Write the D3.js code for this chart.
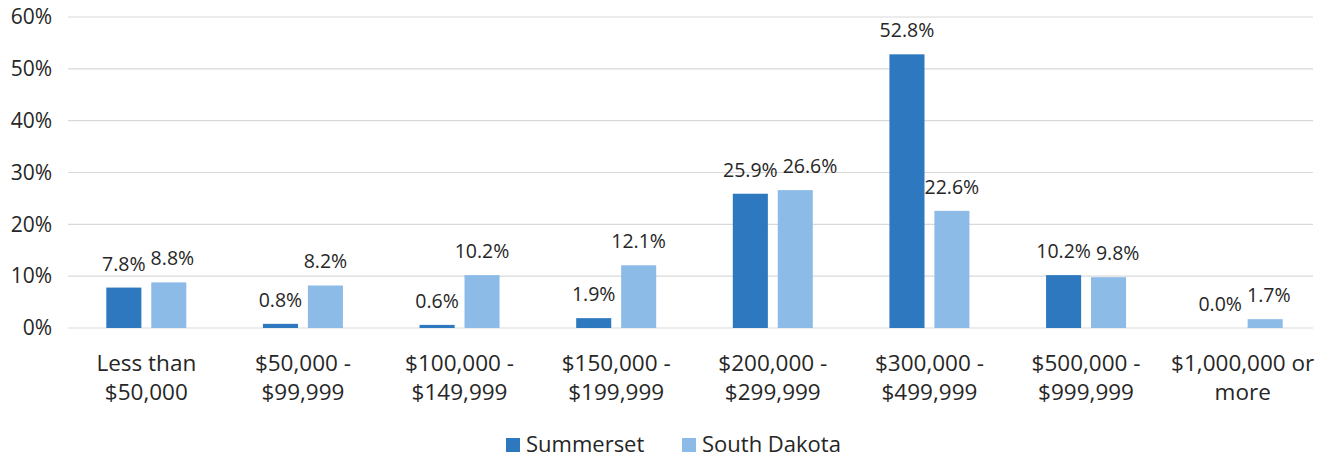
<!DOCTYPE html>
<html>
<head>
<meta charset="utf-8">
<title>Home values</title>
<script src="https://cdn.jsdelivr.net/npm/d3@7"></script>
<style>
  body { margin: 0; background: #fff; }
  text { font-family: "Open Sans", sans-serif; fill: #262626; }
</style>
</head>
<body>
<div id="chart"></div>
<script>
var categories = [
  ['Less than', '$50,000'],
  ['$50,000 -', '$99,999'],
  ['$100,000 -', '$149,999'],
  ['$150,000 -', '$199,999'],
  ['$200,000 -', '$299,999'],
  ['$300,000 -', '$499,999'],
  ['$500,000 -', '$999,999'],
  ['$1,000,000 or', 'more']
];
var seriesNames = ['Summerset', 'South Dakota'];
var summerset = [7.8, 0.8, 0.6, 1.9, 25.9, 52.8, 10.2, 0.0];
var southDakota = [8.8, 8.2, 10.2, 12.1, 26.6, 22.6, 9.8, 1.7];
var yTicks = [0, 10, 20, 30, 40, 50, 60];
var colors = ['#2e78bf', '#8dbbe8'];

var width = 1327, height = 458;
var svg = d3.select('#chart').append('svg')
  .attr('width', width).attr('height', height);

var x = d3.scaleBand()
  .domain(d3.range(categories.length))
  .range([68, 1321]);
var xs = d3.scaleBand()
  .domain(seriesNames)
  .range([x.bandwidth() / 2 - 40, x.bandwidth() / 2 + 40])
  .paddingInner(0.22);
var y = d3.scaleLinear().domain([0, 60]).range([328, 17]);

// gridlines
svg.append('g').selectAll('line')
  .data(yTicks).enter().append('line')
  .attr('x1', 68).attr('x2', 1313)
  .attr('y1', function(d) { return y(d); })
  .attr('y2', function(d) { return y(d); })
  .attr('stroke', '#d9d9d9').attr('stroke-width', 1.2);

var yAxis = svg.append('g')
  .attr('transform', 'translate(58,0)')
  .call(d3.axisLeft(y).tickValues(yTicks).tickSize(0).tickPadding(6)
    .tickFormat(function(d) { return d + '%'; }));
yAxis.select('.domain').remove();
yAxis.selectAll('text').style('font-size', '21px')
  .style('font-family', '"Open Sans", sans-serif').attr('fill', '#262626');

var data = [];
categories.forEach(function(c, i) {
  data.push({ i: i, s: seriesNames[0], v: summerset[i] });
  data.push({ i: i, s: seriesNames[1], v: southDakota[i] });
});

svg.append('g').selectAll('rect')
  .data(data).enter().append('rect')
  .attr('x', function(d) { return x(d.i) + xs(d.s); })
  .attr('width', xs.bandwidth())
  .attr('y', function(d) { return y(d.v); })
  .attr('height', function(d) { return y(0) - y(d.v); })
  .attr('fill', function(d) { return colors[seriesNames.indexOf(d.s)]; });

var labels = svg.append('g').selectAll('text')
  .data(data).enter().append('text')
  .attr('x', function(d) { return x(d.i) + xs(d.s) + xs.bandwidth() / 2; })
  .attr('y', function(d) { return y(d.v) - 17; })
  .attr('text-anchor', 'middle')
  .style('font-size', '19.5px')
  .text(function(d) { return d.v.toFixed(1) + '%'; });

// nudge the second label of a group right when the two would touch
var nodes = labels.nodes();
for (var k = 0; k < nodes.length; k += 2) {
  var a = nodes[k].getBBox(), b = nodes[k + 1].getBBox();
  var vOverlap = a.y < b.y + b.height && b.y < a.y + a.height;
  var gap = b.x - (a.x + a.width);
  if (vOverlap && gap < 5) {
    var nx = +d3.select(nodes[k + 1]).attr('x') + (5 - gap);
    d3.select(nodes[k + 1]).attr('x', nx);
  }
}

// category labels
var cat = svg.append('g').selectAll('text')
  .data(categories).enter().append('text')
  .attr('text-anchor', 'middle')
  .attr('x', function(d, i) { return x(i) + x.bandwidth() / 2; })
  .attr('y', 371)
  .style('font-size', '22.5px');
cat.append('tspan').text(function(d) { return d[0]; });
cat.append('tspan')
  .attr('x', function(d, i) { return x(i) + x.bandwidth() / 2; })
  .attr('dy', 29)
  .text(function(d) { return d[1]; });

// legend
var legendX = [506, 682];
var legend = svg.append('g').selectAll('g')
  .data(seriesNames).enter().append('g')
  .attr('transform', function(d, i) { return 'translate(' + legendX[i] + ',438)'; });
legend.append('rect')
  .attr('width', 14).attr('height', 14)
  .attr('fill', function(d, i) { return colors[i]; });
legend.append('text')
  .attr('x', 20).attr('y', 14)
  .style('font-size', '22px')
  .text(function(d) { return d; });
</script>
</body>
</html>
